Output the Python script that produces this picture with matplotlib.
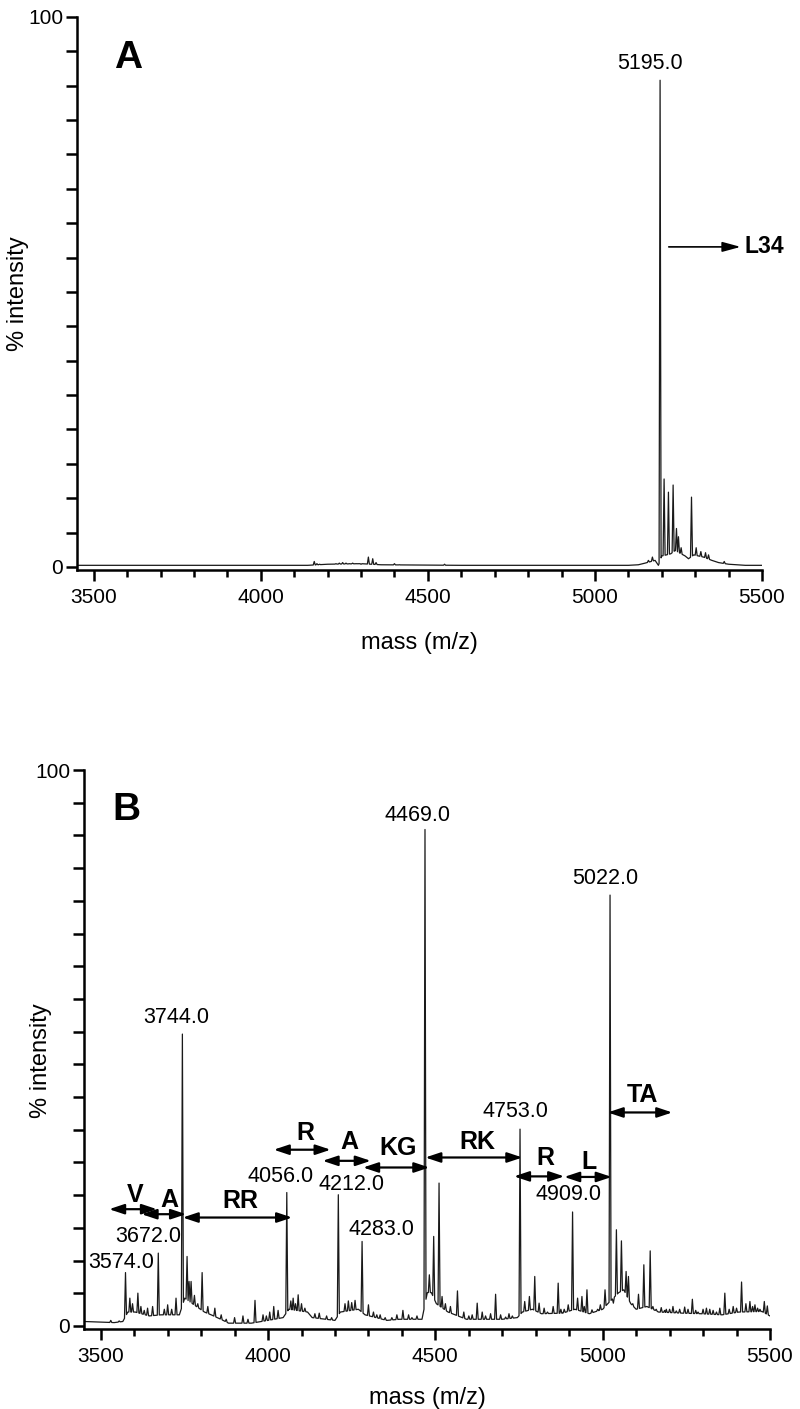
import numpy as np
import matplotlib.pyplot as plt
from matplotlib.ticker import MultipleLocator, FixedLocator

plt.rcParams['font.family'] = ['Liberation Sans', 'DejaVu Sans']

# ---- panel A: intact L34 ----
a_peak_mz = [4160, 4168, 4176, 4225, 4235, 4245, 4255, 4265, 4275, 4285, 4300,
             4322, 4335, 4345, 4400, 4415, 4550, 5160, 5172, 5195, 5207, 5220,
             5234, 5244, 5250, 5258, 5289, 5303, 5317, 5331, 5340, 5360, 5387]
a_peak_int = [1.0, 0.6, 0.5, 0.6, 0.7, 0.8, 0.7, 0.6, 0.7, 0.6, 0.5,
              1.8, 1.5, 0.8, 0.6, 0.4, 0.5, 1.2, 1.8, 88.5, 16.0, 13.6,
              14.9, 7.0, 5.5, 3.5, 12.7, 3.5, 2.8, 2.6, 2.2, 1.0, 1.0]
a_floor_mz = [3450, 4140, 4200, 4300, 4360, 4600, 5100, 5130, 5150, 5180, 5190,
              5200, 5214, 5227, 5240, 5270, 5280, 5296, 5310, 5325, 5350, 5370, 5400, 5450, 5500]
a_floor_int = [0.3, 0.3, 0.5, 0.6, 0.4, 0.3, 0.3, 0.4, 0.7, 1.2, 0.3,
               2.0, 2.2, 2.4, 3.0, 2.0, 1.5, 2.2, 2.0, 1.8, 1.2, 0.8, 0.5, 0.3, 0.3]

a_label_text = ["5195.0"]
a_label_x = [5165]
a_label_y = [91.6]

# ---- panel B: fragments ----
b_peak_mz = [3530, 3555, 3574, 3587, 3595, 3611, 3620, 3630, 3640, 3655, 3672,
             3690, 3700, 3712, 3725, 3744, 3758, 3764, 3770, 3780, 3790, 3803,
             3820, 3841, 3860, 3875, 3900, 3925, 3940, 3961, 3985, 3995, 4005,
             4017, 4030, 4056, 4068, 4075, 4082, 4090, 4100, 4110, 4125, 4140,
             4153, 4175, 4190, 4210, 4230, 4240, 4250, 4260, 4281, 4300, 4315,
             4325, 4335, 4350, 4370, 4385, 4403, 4420, 4430, 4445, 4469, 4482,
             4495, 4511, 4520, 4530, 4545, 4566, 4585, 4600, 4610, 4625, 4640,
             4650, 4665, 4680, 4695, 4710, 4720, 4730, 4753, 4767, 4781, 4797,
             4810, 4825, 4835, 4852, 4867, 4875, 4885, 4897, 4910, 4925, 4938,
             4945, 4953, 4968, 4985, 4993, 5007, 5022, 5032, 5041, 5056, 5070,
             5077, 5090, 5107, 5123, 5142, 5150, 5160, 5175, 5185, 5190, 5200,
             5210, 5220, 5230, 5245, 5255, 5268, 5278, 5285, 5300, 5310, 5320,
             5330, 5340, 5350, 5365, 5378, 5390, 5400, 5415, 5428, 5440, 5448,
             5455, 5463, 5470, 5483, 5492]
b_peak_int = [1.0, 0.9, 9.6, 5.0, 4.0, 5.9, 3.5, 2.8, 3.2, 3.5, 13.1,
              3.0, 3.8, 3.0, 5.0, 52.5, 12.5, 8.0, 8.0, 5.5, 4.0, 9.6,
              3.5, 3.2, 2.0, 1.2, 1.5, 1.8, 1.2, 4.6, 2.0, 1.8, 2.5,
              3.5, 2.8, 24.0, 4.5, 5.0, 4.0, 5.6, 4.0, 3.2, 2.0, 2.2,
              2.3, 1.8, 1.5, 23.6, 4.0, 4.5, 4.2, 4.6, 15.2, 3.8, 2.5,
              2.0, 2.0, 1.5, 1.5, 2.0, 2.8, 2.0, 1.5, 1.8, 89.3, 9.2,
              16.1, 25.7, 5.3, 4.0, 3.5, 6.3, 2.5, 1.8, 2.0, 4.1, 2.5,
              1.8, 2.2, 5.7, 2.0, 1.6, 2.2, 1.8, 35.4, 4.4, 5.3, 8.9,
              4.1, 3.2, 2.5, 3.5, 7.7, 3.0, 3.0, 3.8, 20.5, 5.0, 5.3,
              3.5, 6.5, 2.9, 3.0, 3.8, 6.5, 77.5, 4.1, 17.3, 15.3, 9.8,
              8.9, 4.0, 5.7, 11.0, 13.5, 3.5, 3.0, 3.3, 2.8, 3.0, 3.0,
              3.5, 2.7, 3.0, 3.4, 3.0, 4.8, 2.8, 2.5, 3.0, 3.2, 3.0,
              2.8, 2.5, 3.2, 5.9, 3.0, 3.5, 3.2, 7.9, 4.0, 4.4, 3.5,
              3.8, 3.2, 3.0, 4.4, 3.6]
b_floor_mz = [3450, 3500, 3540, 3566, 3581, 3603, 3645, 3680, 3735, 3751, 3786,
              3810, 3830, 3866, 3882, 3950, 4000, 4045, 4062, 4118, 4132, 4200,
              4216, 4270, 4290, 4355, 4393, 4460, 4476, 4488, 4503, 4538, 4593,
              4700, 4745, 4760, 4790, 4817, 4880, 4917, 4960, 5000, 5015, 5048,
              5063, 5084, 5100, 5132, 5167, 5238, 5293, 5357, 5407, 5476, 5500]
b_floor_int = [0.8, 0.7, 0.6, 0.8, 2.5, 2.5, 1.8, 2.0, 2.0, 5.0, 3.5,
               2.5, 2.0, 1.0, 0.5, 0.5, 1.0, 1.5, 3.0, 2.5, 1.5, 1.0,
               2.5, 3.0, 2.0, 1.0, 1.2, 1.2, 6.0, 6.0, 4.0, 2.5, 1.2,
               1.2, 1.5, 2.5, 3.0, 2.2, 2.3, 3.0, 2.2, 3.0, 4.0, 6.0,
               6.5, 4.0, 3.0, 3.5, 2.5, 2.3, 2.2, 2.0, 2.5, 2.6, 1.8]

b_label_text = ["3574.0", "3672.0", "3744.0", "4056.0", "4212.0", "4283.0",
                "4469.0", "4753.0", "4909.0", "5022.0"]
b_label_x = [3560, 3642, 3725, 4036, 4250, 4340, 4448, 4738, 4897, 5008]
b_label_y = [11.4, 16.0, 55.4, 26.9, 25.5, 17.3, 91.9, 38.5, 23.7, 80.5]

# residue gaps between fragment peaks
gap_text = ["V", "A", "RR", "R", "A", "KG", "RK", "R", "L", "TA"]
gap_start = [3525, 3622, 3745, 4017, 4163, 4284, 4470, 4735, 4885, 5015]
gap_end = [3668, 3755, 4072, 4187, 4307, 4482, 4760, 4885, 5027, 5208]
gap_y = [21.0, 20.1, 19.5, 31.7, 29.7, 28.5, 30.3, 26.9, 26.8, 38.4]
gap_text_x = [3602, 3706, 3916, 4111, 4242, 4388, 4625, 4830, 4960, 5120]
gap_text_y = [23.6, 22.7, 22.4, 34.7, 33.1, 32.0, 33.1, 30.2, 29.5, 41.5]


def build_trace(peak_mz, peak_int, floor_mz, floor_int, hw=3.0):
    peak_mz = np.asarray(peak_mz, float)
    floor_mz = np.asarray(floor_mz, float)
    floor_int = np.asarray(floor_int, float)
    xs, ys = [], []
    for m, h in zip(peak_mz, peak_int):
        for dx in (-hw, hw):
            xs.append(m + dx)
            ys.append(np.interp(m + dx, floor_mz, floor_int))
        xs.append(m)
        ys.append(h)
    for m, v in zip(floor_mz, floor_int):
        if np.min(np.abs(peak_mz - m)) > hw:
            xs.append(m)
            ys.append(v)
    xs = np.array(xs)
    ys = np.array(ys)
    order = np.argsort(xs, kind='stable')
    return xs[order], ys[order]


def style_axis(ax, n_ydiv):
    ax.set_xlim(3450, 5500)
    ax.set_ylim(-0.55, 100)
    for s in ['top', 'right']:
        ax.spines[s].set_visible(False)
    for s in ['left', 'bottom']:
        ax.spines[s].set_linewidth(1.8)
    ax.xaxis.set_major_locator(MultipleLocator(500))
    ax.xaxis.set_minor_locator(MultipleLocator(100))
    ax.set_yticks([0, 100])
    ax.yaxis.set_minor_locator(FixedLocator(np.linspace(0, 100, n_ydiv + 1)))
    ax.tick_params(which='both', direction='out', width=1.8, labelsize=15, pad=5)
    ax.tick_params(axis='x', which='major', length=8)
    ax.tick_params(axis='x', which='minor', length=5)
    ax.tick_params(axis='y', which='both', length=8, pad=2)
    ax.set_xlabel('mass (m/z)', fontsize=17)
    ax.set_ylabel('% intensity', fontsize=17)


fig = plt.figure(figsize=(8, 14.09), dpi=100)
H = 1409.0

# panel A
axA = fig.add_axes([77 / 800, 1 - 570 / H, 685 / 800, (570 - 17) / H])
x, y = build_trace(a_peak_mz, a_peak_int, a_floor_mz, a_floor_int)
axA.plot(x, y, color='#1a1a1a', lw=0.9)
style_axis(axA, 16)
axA.xaxis.set_label_coords(0.5, -0.112)
axA.yaxis.set_label_coords(-0.07, 0.5)
axA.text(3603, 92.5, 'A', fontsize=28, fontweight='bold', ha='center', va='center')
for t, lx, ly in zip(a_label_text, a_label_x, a_label_y):
    axA.text(lx, ly, t, fontsize=15.5, ha='center', va='center')
axA.annotate('', xy=(5436, 58.2), xytext=(5221, 58.2),
             arrowprops=dict(arrowstyle='-|>,head_length=1.1,head_width=0.3',
                             lw=1.2, color='black', shrinkA=0, shrinkB=0,
                             mutation_scale=10))
axA.text(5449, 58.2, 'L34', fontsize=16.5, fontweight='bold', ha='left', va='center')

# panel B
axB = fig.add_axes([84 / 800, 1 - 1329 / H, 686 / 800, (1329 - 770) / H])
x, y = build_trace(b_peak_mz, b_peak_int, b_floor_mz, b_floor_int)
axB.plot(x, y, color='#1a1a1a', lw=0.9)
style_axis(axB, 17)
axB.xaxis.set_label_coords(0.5, -0.104)
axB.yaxis.set_label_coords(-0.047, 0.48)
axB.text(3578, 92.8, 'B', fontsize=28, fontweight='bold', ha='center', va='center')
for t, lx, ly in zip(b_label_text, b_label_x, b_label_y):
    axB.text(lx, ly, t, fontsize=15.5, ha='center', va='center')
for t, x0, x1, gy, tx, ty in zip(gap_text, gap_start, gap_end, gap_y, gap_text_x, gap_text_y):
    axB.annotate('', xy=(x1, gy), xytext=(x0, gy),
                 arrowprops=dict(arrowstyle='<|-|>,head_length=0.9,head_width=0.3',
                                 lw=1.6, color='black', shrinkA=0, shrinkB=0,
                                 mutation_scale=10))
    axB.text(tx, ty, t, fontsize=18, fontweight='bold', ha='center', va='center')

fig.savefig('out.png', dpi=100)
